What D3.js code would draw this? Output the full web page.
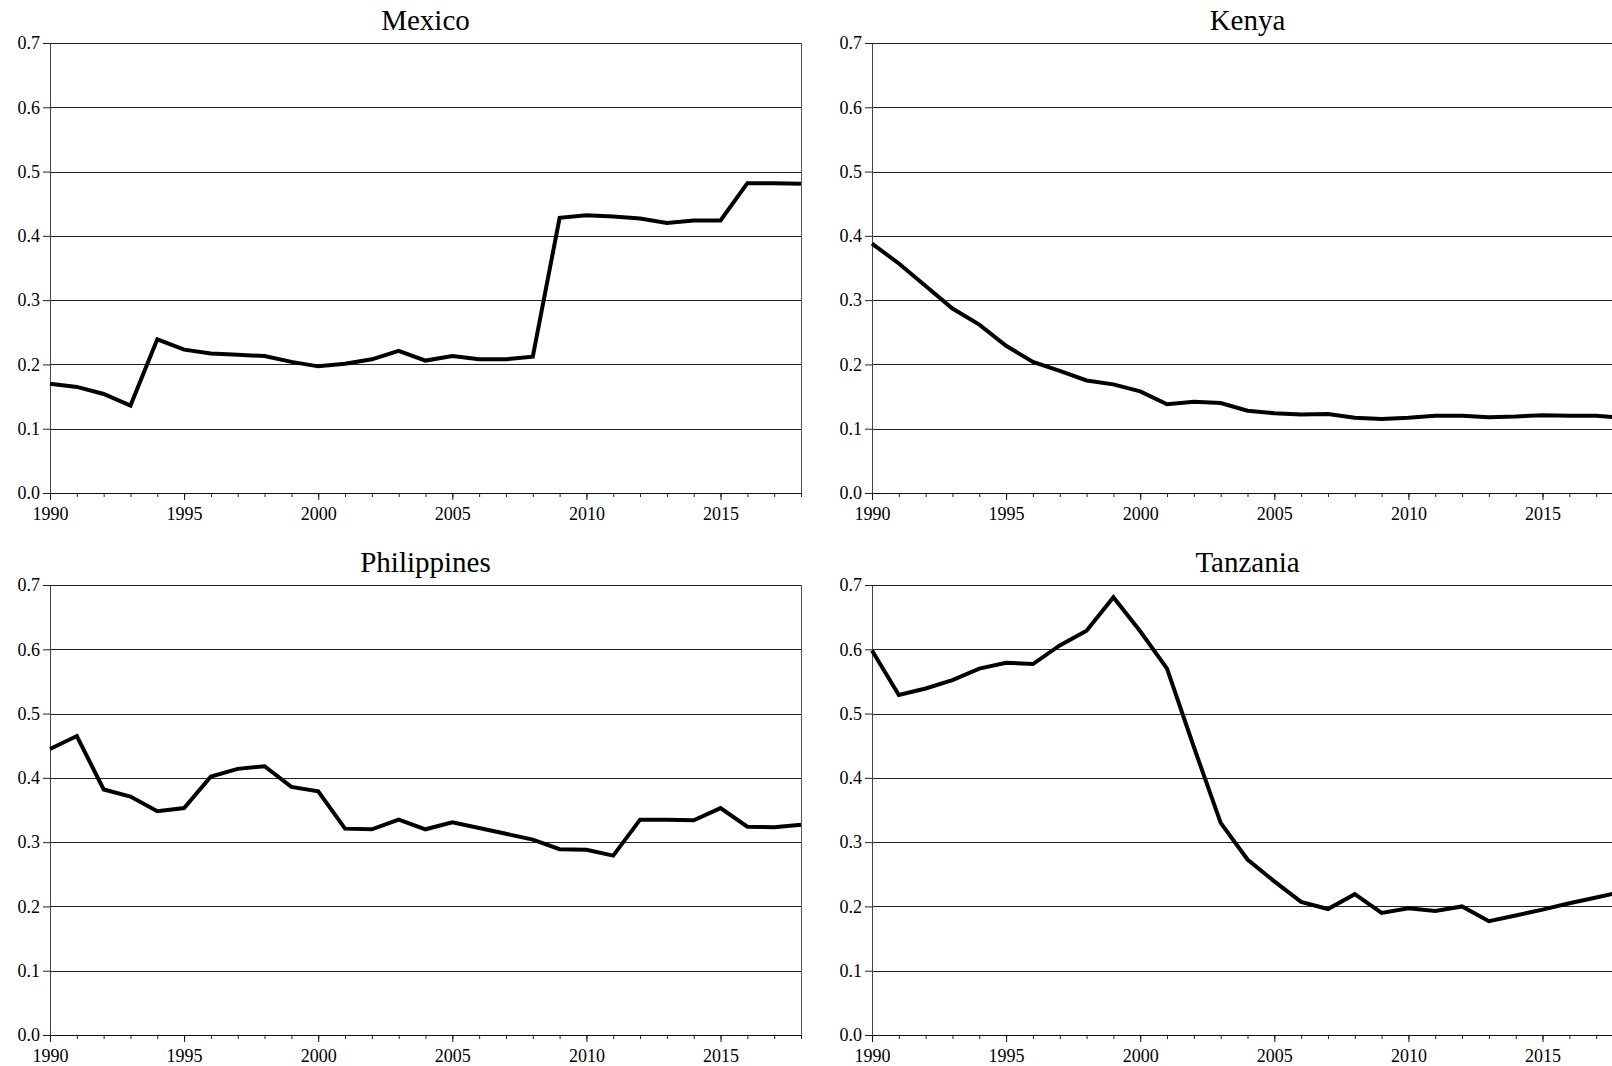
<!DOCTYPE html>
<html>
<head>
<meta charset="utf-8">
<script src="https://cdn.jsdelivr.net/npm/d3@7/dist/d3.min.js"></script>
<style>
  html, body { margin: 0; padding: 0; background: #fff; }
  svg { display: block; }
  text { font-family: "Liberation Serif", "Times New Roman", Times, serif; fill: #000; }
</style>
</head>
<body>
<svg id="chart" width="1612" height="1066"></svg>
<script>
// Years on the horizontal axis
const years = [1990, 1991, 1992, 1993, 1994, 1995, 1996, 1997, 1998, 1999,
               2000, 2001, 2002, 2003, 2004, 2005, 2006, 2007, 2008, 2009,
               2010, 2011, 2012, 2013, 2014, 2015, 2016, 2017, 2018];

// Series, one value per year
const mexico = [0.170, 0.165, 0.154, 0.136, 0.239, 0.223, 0.217, 0.215, 0.213, 0.204,
                0.197, 0.201, 0.208, 0.221, 0.206, 0.213, 0.208, 0.208, 0.212, 0.428,
                0.432, 0.430, 0.427, 0.420, 0.424, 0.424, 0.482, 0.482, 0.481];

const kenya = [0.388, 0.357, 0.322, 0.287, 0.262, 0.229, 0.204, 0.190, 0.175, 0.169,
               0.158, 0.138, 0.142, 0.140, 0.128, 0.124, 0.122, 0.123, 0.117, 0.115,
               0.117, 0.120, 0.120, 0.118, 0.119, 0.121, 0.120, 0.120, 0.117];

const philippines = [0.445, 0.465, 0.382, 0.371, 0.348, 0.353, 0.402, 0.414, 0.418, 0.386,
                     0.379, 0.321, 0.320, 0.335, 0.320, 0.331, 0.322, 0.313, 0.304, 0.289,
                     0.288, 0.279, 0.335, 0.335, 0.334, 0.353, 0.324, 0.323, 0.327];

const tanzania = [0.598, 0.529, 0.539, 0.552, 0.570, 0.579, 0.577, 0.606, 0.629, 0.681,
                  0.628, 0.570, 0.448, 0.330, 0.273, 0.239, 0.207, 0.196, 0.219, 0.190,
                  0.197, 0.193, 0.200, 0.177, 0.186, 0.195, 0.205, 0.214, 0.223];

// Axis ticks
const yTicks = [0.0, 0.1, 0.2, 0.3, 0.4, 0.5, 0.6, 0.7];
const xMajorTicks = [1990, 1995, 2000, 2005, 2010, 2015];

// Panel titles and their series
const panelTitles = ["Mexico", "Kenya", "Philippines", "Tanzania"];
const panelSeries = [mexico, kenya, philippines, tanzania];

// Panel geometry
const plotW = 751, plotH = 450;
const panelOrigins = [[50, 43], [872, 43], [50, 585], [872, 585]];
const serif = '"Liberation Serif", "Times New Roman", Times, serif';

const svg = d3.select("#chart");

const x = d3.scaleLinear().domain([1990, 2018]).range([0, plotW]);
const y = d3.scaleLinear().domain([0, 0.7]).range([plotH, 0]);

panelTitles.forEach((title, i) => {
  const [ox, oy] = panelOrigins[i];
  const values = panelSeries[i];
  const g = svg.append("g").attr("transform", `translate(${ox},${oy})`);

  // horizontal grid lines
  g.append("g")
    .selectAll("line")
    .data(yTicks.filter(d => d > 0))
    .join("line")
      .attr("x1", 0)
      .attr("x2", plotW)
      .attr("y1", d => Math.round(y(d)) + 0.5)
      .attr("y2", d => Math.round(y(d)) + 0.5)
      .attr("stroke", "#222")
      .attr("stroke-width", 1);

  // right border
  g.append("line")
    .attr("x1", plotW + 0.5).attr("x2", plotW + 0.5)
    .attr("y1", 0).attr("y2", plotH)
    .attr("stroke", "#555").attr("stroke-width", 1);

  // minor yearly ticks
  const minorAxis = g.append("g")
    .attr("transform", `translate(0,${plotH})`)
    .call(d3.axisBottom(x).tickValues(years).tickSize(4).tickFormat(""));
  minorAxis.select(".domain").remove();
  minorAxis.selectAll("line").attr("stroke", "#222");

  // major x axis
  const xAxis = g.append("g")
    .attr("transform", `translate(0,${plotH})`)
    .call(d3.axisBottom(x).tickValues(xMajorTicks).tickSize(7).tickSizeOuter(0).tickFormat(d3.format("d")));
  xAxis.attr("font-family", null);
  xAxis.select(".domain").attr("stroke", "#111");
  xAxis.selectAll(".tick line").attr("stroke", "#111");
  xAxis.selectAll("text")
    .style("font-family", serif)
    .style("font-size", "18px")
    .attr("fill", "#000")
    .attr("y", 27)
    .attr("dy", null);

  // y axis
  const yAxis = g.append("g")
    .call(d3.axisLeft(y).tickValues(yTicks).tickSize(7).tickSizeOuter(0).tickPadding(3).tickFormat(d3.format(".1f")));
  yAxis.attr("font-family", null);
  yAxis.select(".domain").attr("stroke", "#444");
  yAxis.selectAll(".tick line").attr("stroke", "#222");
  yAxis.selectAll("text")
    .style("font-family", serif)
    .style("font-size", "18px")
    .attr("fill", "#000");

  // series line
  const line = d3.line()
    .x((d, j) => x(years[j]))
    .y(d => y(d));

  g.append("path")
    .datum(values)
    .attr("fill", "none")
    .attr("stroke", "#000")
    .attr("stroke-width", 4)
    .attr("stroke-linejoin", "miter")
    .attr("d", line);

  // panel title
  g.append("text")
    .attr("x", plotW / 2)
    .attr("y", -13)
    .attr("text-anchor", "middle")
    .style("font-family", serif)
    .style("font-size", "29px")
    .text(title);
});
</script>
</body>
</html>
